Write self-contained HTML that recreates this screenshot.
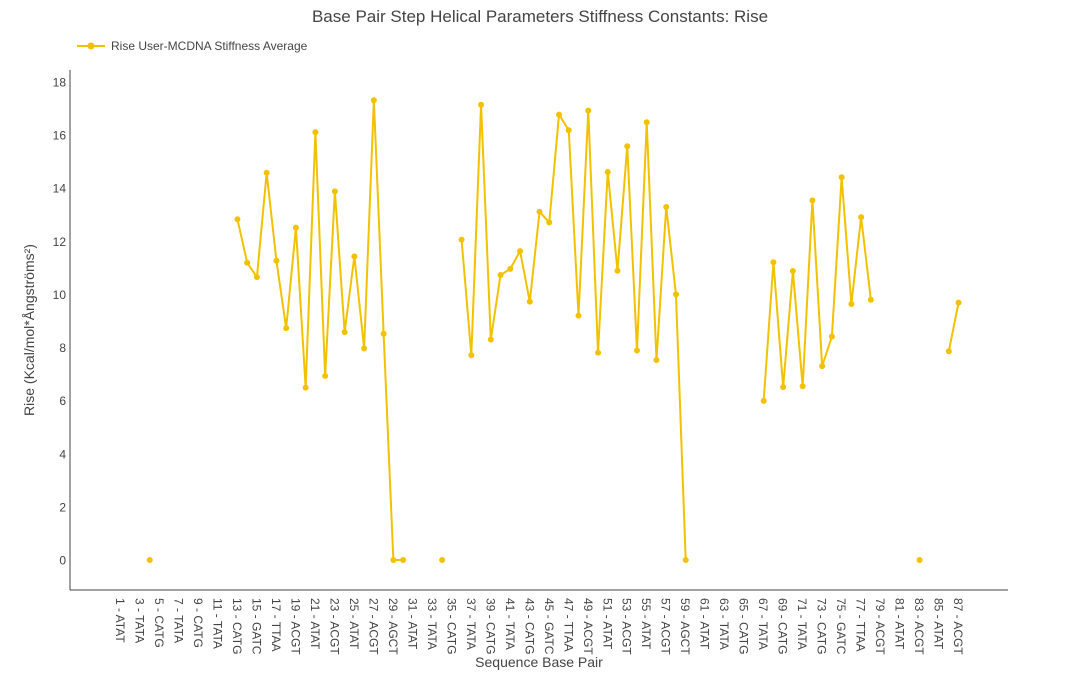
<!DOCTYPE html>
<html><head><meta charset="utf-8"><style>
body{margin:0;background:#fff;}
svg{display:block;font-family:"Liberation Sans",sans-serif;}
</style></head><body>
<svg id="chart" width="1071" height="684">
<text x="540" y="22" text-anchor="middle" font-size="17" fill="#444">Base Pair Step Helical Parameters Stiffness Constants: Rise</text>
<g>
<line x1="77" y1="46" x2="105" y2="46" stroke="#f2c200" stroke-width="2"/>
<circle cx="91" cy="46" r="3.5" fill="#f2c200"/>
<text x="111" y="50" font-size="12" fill="#444">Rise User-MCDNA Stiffness Average</text>
</g>
<line x1="70" y1="70" x2="70" y2="590" stroke="#444" stroke-width="1"/>
<line x1="70" y1="590" x2="1008" y2="590" stroke="#444" stroke-width="1"/>
<text transform="translate(34,330) rotate(-90)" text-anchor="middle" font-size="14" fill="#444">Rise (Kcal/mol*Ångströms²)</text>
<text x="539" y="667" text-anchor="middle" font-size="14" fill="#444">Sequence Base Pair</text>
<g id="yticks"></g><g id="xticks"></g><g id="series"></g>
</svg>
<script>
const yTicks=[0,2,4,6,8,10,12,14,16,18];
const baseNames=["ATAT","TATA","TATA","CATG","CATG","TATA","TATA","CATG","CATG","TATA","TATA","TATA","CATG","CATG","GATC","GATC","TTAA","TTAA","ACGT","ACGT","ATAT","ATAT","ACGT","ACGT","ATAT","ATAT","ACGT","ACGT","AGCT","AGCT"];
const categories=[];
for(let i=1;i<=87;i++){categories.push(i+" - "+baseNames[(i-1)%30]);}
const riseValues=[null,null,null,0,null,null,null,null,null,null,null,null,
12.83,11.19,10.65,14.58,11.27,8.73,12.51,6.49,16.11,6.93,13.88,8.58,11.43,7.97,17.31,8.52,0,0,
null,null,null,0,null,
12.06,7.71,17.14,8.30,10.73,10.96,11.63,9.73,13.11,12.71,16.77,16.18,9.20,16.92,7.81,14.61,10.89,15.58,7.89,16.48,7.53,13.29,10.00,0,
null,null,null,null,null,null,null,
5.99,11.21,6.51,10.88,6.54,13.54,7.30,8.41,14.41,9.64,12.91,9.80,
null,null,null,null,0,null,null,7.86,9.69];
const NS="http://www.w3.org/2000/svg";
function xPos(i){return 120.5+i*9.745;}
function yPos(v){return 560-v*26.56;}
const yg=document.getElementById('yticks');
yTicks.forEach(v=>{
 const t=document.createElementNS(NS,'text');
 t.setAttribute('x',66);t.setAttribute('y',yPos(v)+4.5);
 t.setAttribute('text-anchor','end');t.setAttribute('font-size','12');t.setAttribute('fill','#444');
 t.textContent=v;
 
 
 yg.appendChild(t);
});
const xg=document.getElementById('xticks');
categories.forEach((c,i)=>{
 if(i%2!==0)return;
 const x=xPos(i)-4.5;
 const t=document.createElementNS(NS,'text');
 t.setAttribute('x',x);t.setAttribute('y',598);
 t.setAttribute('transform','rotate(90,'+x+',598)');
 t.setAttribute('font-size','12');t.setAttribute('fill','#444');
 t.textContent=c;
 
 
 xg.appendChild(t);
});
const sg=document.getElementById('series');
let seg=[];
function flush(){
 if(seg.length>1){
  const p=document.createElementNS(NS,'polyline');
  p.setAttribute('points',seg.map(q=>q.join(',')).join(' '));
  p.setAttribute('fill','none');p.setAttribute('stroke','#f2c200');p.setAttribute('stroke-width','2');
  
  
  sg.appendChild(p);
 }
 seg=[];
}
riseValues.forEach((v,i)=>{
 if(v===null){flush();return;}
 seg.push([xPos(i),yPos(v)]);
});
flush();
riseValues.forEach((v,i)=>{
 if(v===null)return;
 const c=document.createElementNS(NS,'circle');
 c.setAttribute('cx',xPos(i));c.setAttribute('cy',yPos(v));c.setAttribute('r',3);
 c.setAttribute('fill','#f2c200');
 
 
 sg.appendChild(c);
});
</script>
</body></html>
